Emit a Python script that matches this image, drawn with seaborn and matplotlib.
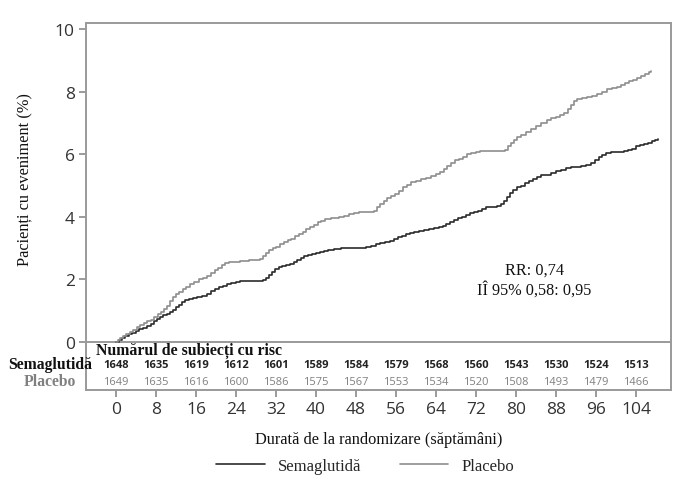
import numpy as np
import pandas as pd
import matplotlib
matplotlib.use("Agg")
import matplotlib.pyplot as plt
import seaborn as sns

# Cumulative incidence curves (weeks, %)
sema_weeks = [0, 0.6, 1.2, 1.9, 2.6, 3.3, 4.0, 4.7, 5.4, 6.2, 7.0, 7.6, 8.2, 8.9,
              9.5, 10.2, 10.8, 11.4, 12.0, 12.6, 13.2, 13.8, 14.5, 15.3, 16.2,
              17.2, 18.2, 19.0, 19.8, 20.6, 21.4, 22.2, 23.0, 24.0, 24.8, 29.4,
              30.0, 30.6, 31.2, 31.8, 32.5, 33.2, 34.0, 34.8, 35.5, 36.2, 36.9,
              37.6, 38.4, 39.2, 40.0, 40.8, 41.6, 42.4, 43.5, 45.0, 47.0, 48.5,
              50.0, 51.0, 52.0, 52.8, 53.8, 54.8, 55.6, 56.4, 57.2, 58.0, 58.8,
              59.6, 60.5, 61.5, 62.5, 63.5, 64.5, 65.3, 66.0, 66.8, 67.6, 68.4,
              69.2, 70.0, 70.8, 71.6, 72.4, 73.2, 74.0, 75.0, 76.2, 77.0, 77.6,
              78.2, 78.8, 79.4, 80.2, 81.0, 81.8, 82.6, 83.4, 84.2, 85.0, 86.0,
              87.0, 88.0, 89.0, 90.0, 91.0, 92.0, 93.0, 94.0, 95.0, 95.8, 96.5,
              97.2, 98.0, 99.0, 100.5, 101.5, 102.4, 103.2, 104.0, 104.8, 105.6,
              106.4, 107.2, 107.8, 108.4]
sema_pct = [0, 0.06, 0.12, 0.2, 0.25, 0.3, 0.36, 0.42, 0.46, 0.5, 0.58, 0.66,
            0.73, 0.8, 0.85, 0.9, 0.96, 1.04, 1.12, 1.2, 1.28, 1.34, 1.37, 1.4,
            1.43, 1.48, 1.55, 1.62, 1.7, 1.75, 1.8, 1.86, 1.9, 1.93, 1.95, 1.97,
            2.05, 2.15, 2.25, 2.33, 2.4, 2.44, 2.47, 2.5, 2.56, 2.62, 2.7, 2.75,
            2.78, 2.81, 2.84, 2.88, 2.92, 2.95, 2.97, 2.99, 3.0, 3.01, 3.05, 3.08,
            3.12, 3.15, 3.19, 3.23, 3.3, 3.36, 3.4, 3.45, 3.49, 3.51, 3.54, 3.57,
            3.6, 3.64, 3.68, 3.72, 3.78, 3.84, 3.9, 3.95, 3.99, 4.05, 4.12, 4.17,
            4.2, 4.25, 4.3, 4.33, 4.36, 4.42, 4.52, 4.63, 4.75, 4.87, 4.95, 5.0,
            5.08, 5.15, 5.22, 5.28, 5.32, 5.35, 5.4, 5.45, 5.5, 5.55, 5.58, 5.6,
            5.63, 5.66, 5.72, 5.8, 5.9, 5.98, 6.04, 6.06, 6.08, 6.1, 6.14, 6.18,
            6.25, 6.3, 6.33, 6.36, 6.42, 6.46, 6.5]

plac_weeks = [0, 0.4, 0.9, 1.5, 2.1, 2.8, 3.5, 4.2, 4.9, 5.6, 6.3, 7.0, 7.7, 8.4,
              9.0, 9.6, 10.2, 10.8, 11.4, 12.0, 12.6, 13.3, 14.0, 14.8, 15.5,
              16.5, 17.4, 18.2, 19.0, 19.7, 20.4, 21.1, 21.8, 22.6, 24.8, 26.5,
              28.8, 29.4, 30.0, 30.6, 31.3, 32.0, 32.8, 33.5, 34.3, 35.0, 35.8,
              36.5, 37.3, 38.0, 38.8, 39.5, 40.3, 41.0, 41.8, 43.0, 44.5, 45.5,
              46.5, 47.5, 48.5, 50.0, 51.6, 52.2, 52.8, 53.5, 54.2, 55.0, 55.8,
              56.6, 57.4, 58.2, 59.0, 60.0, 61.0, 62.0, 63.0, 64.0, 64.8, 65.5,
              66.2, 67.0, 67.8, 68.6, 69.4, 70.2, 71.0, 72.0, 72.8, 77.8, 78.4,
              79.0, 79.6, 80.2, 81.0, 82.0, 83.0, 84.0, 85.0, 86.2, 87.0, 88.0,
              88.8, 89.6, 90.3, 91.0, 91.6, 92.2, 93.2, 94.2, 95.2, 96.2, 97.2,
              98.2, 99.2, 100.2, 101.0, 101.8, 102.6, 103.4, 104.2, 105.0, 105.8,
              106.5, 106.9]
plac_pct = [0, 0.06, 0.12, 0.2, 0.26, 0.32, 0.4, 0.48, 0.55, 0.6, 0.66, 0.72,
            0.8, 0.9, 0.96, 1.05, 1.15, 1.3, 1.45, 1.52, 1.6, 1.68, 1.75, 1.86,
            1.92, 2.0, 2.05, 2.12, 2.2, 2.3, 2.38, 2.45, 2.52, 2.55, 2.58, 2.62,
            2.65, 2.75, 2.85, 2.95, 3.0, 3.05, 3.12, 3.2, 3.25, 3.3, 3.38, 3.45,
            3.52, 3.6, 3.68, 3.75, 3.82, 3.88, 3.92, 3.95, 3.98, 4.02, 4.08, 4.12,
            4.15, 4.17, 4.2, 4.32, 4.42, 4.52, 4.6, 4.66, 4.72, 4.82, 4.95, 5.02,
            5.1, 5.15, 5.2, 5.25, 5.3, 5.38, 5.43, 5.52, 5.62, 5.72, 5.8, 5.86,
            5.92, 6.0, 6.05, 6.08, 6.1, 6.12, 6.25, 6.35, 6.45, 6.55, 6.62, 6.7,
            6.8, 6.9, 7.0, 7.1, 7.15, 7.2, 7.25, 7.32, 7.45, 7.58, 7.7, 7.75,
            7.78, 7.82, 7.86, 7.92, 8.0, 8.08, 8.12, 8.16, 8.22, 8.28, 8.34, 8.38,
            8.44, 8.5, 8.56, 8.62, 8.66]

# Number at risk table
risk_weeks = [0, 8, 16, 24, 32, 40, 48, 56, 64, 72, 80, 88, 96, 104]
sema_risk = [1648, 1635, 1619, 1612, 1601, 1589, 1584, 1579, 1568, 1560, 1543,
             1530, 1524, 1513]
plac_risk = [1649, 1635, 1616, 1600, 1586, 1575, 1567, 1553, 1534, 1520, 1508,
             1493, 1479, 1466]

groups = ["Semaglutidă", "Placebo"]
colors = {"Semaglutidă": "#2b2b2b", "Placebo": "#8e8e8e"}

df = pd.concat([
    pd.DataFrame({"week": sema_weeks, "pct": sema_pct, "grup": groups[0]}),
    pd.DataFrame({"week": plac_weeks, "pct": plac_pct, "grup": groups[1]}),
])

sns.set_style("white")
serif = ["Liberation Serif", "DejaVu Serif"]
sans = ["Open Sans", "DejaVu Sans"]
plt.rcParams["font.family"] = sans

fig = plt.figure(figsize=(6.95, 5.02), dpi=100)
ax = fig.add_axes([0.1237, 0.2211, 0.842, 0.7311])

sns.lineplot(data=df, x="week", y="pct", hue="grup", hue_order=groups,
             palette=colors, estimator=None, sort=False, drawstyle="steps-post",
             linewidth=1.2, ax=ax)

ax.set_xlim(-6, 111)
ax.set_ylim(-1.53, 10.19)
ax.set_xticks(risk_weeks)
ax.set_yticks(range(0, 11, 2))
ax.tick_params(axis="both", direction="out", length=5, width=1.2,
               color="#8a8a8a", labelsize=12.5, labelcolor="#333333",
               left=True, bottom=True, pad=3)
for s in ax.spines.values():
    s.set_color("#9a9a9a")
    s.set_linewidth(1.4)
ax.axhline(0, color="#9a9a9a", linewidth=1.4, zorder=1)

ax.set_ylabel("Pacienți cu eveniment (%)", family=serif, fontsize=11.8,
              color="#111111")
ax.yaxis.set_label_coords(-0.0906, 0.575)
ax.set_xlabel("Durată de la randomizare (săptămâni)", family=serif,
              fontsize=11.8, color="#111111", labelpad=10)

# risk table inside the frame
ax.text(-4, -0.26, "Numărul de subiecți cu risc", family=serif, fontsize=11.4,
        fontweight="bold", ha="left", va="center", color="#111111")
for w, a, b in zip(risk_weeks, sema_risk, plac_risk):
    ax.text(w, -0.70, str(a), ha="center", va="center", fontsize=8,
            fontweight="bold", color="#222222")
    ax.text(w, -1.25, str(b), ha="center", va="center", fontsize=8,
            color="#808080")
ax.text(-13.2, -0.70, "Semaglutidă", family=serif, fontsize=11.3,
        fontweight="bold", ha="center", va="center", color="#111111",
        clip_on=False)
ax.text(-13.2, -1.25, "Placebo", family=serif, fontsize=11.3,
        fontweight="bold", ha="center", va="center", color="#808080",
        clip_on=False)

ax.text(83.6, 2.0, "RR: 0,74\nIÎ 95% 0,58: 0,95", family=serif, fontsize=11.7,
        ha="center", va="center", color="#111111", linespacing=1.2)

sns.move_legend(ax, "center", bbox_to_anchor=(0.477, -0.207), ncol=2,
                frameon=False, title=None, handlelength=2.9,
                handletextpad=0.8, columnspacing=2.3,
                prop={"family": serif, "size": 12})

fig.savefig("out.png", dpi=100)
